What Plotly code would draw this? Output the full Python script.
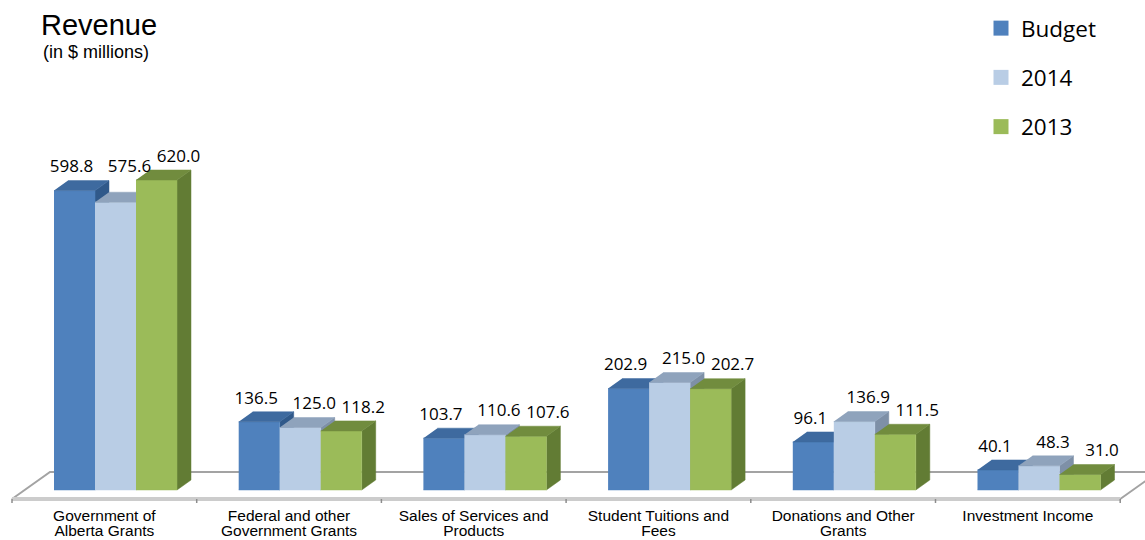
import plotly.graph_objects as go

# ---------------- data ----------------
categories = [
    "Government of<br>Alberta Grants",
    "Federal and other<br>Government Grants",
    "Sales of Services and<br>Products",
    "Student Tuitions and<br>Fees",
    "Donations and Other<br>Grants",
    "Investment Income",
]
series_names = ["Budget", "2014", "2013"]
budget = [598.8, 136.5, 103.7, 202.9, 96.1, 40.1]
rev_2014 = [575.6, 125.0, 110.6, 215.0, 136.9, 48.3]
rev_2013 = [620.0, 118.2, 107.6, 202.7, 111.5, 31.0]
series_values = [budget, rev_2014, rev_2013]

# ---------------- styling ----------------
front_cols = ["#4F81BD", "#B9CDE5", "#9BBB59"]
top_cols = ["#3E6A9F", "#8FA3BC", "#718C3E"]
side_cols = ["#30598A", "#7E90A7", "#627C34"]

W, H = 1145, 540
CAT_PX = 184.7      # pixels per category
X0_PX = 12          # pixel of floor front-left corner
Y0_PX = 490         # pixel of value 0 at bar front
PX_PER_UNIT = 0.5   # pixels per $ million


def cx(px):
    return px / CAT_PX


def vy(px):
    return px / PX_PER_UNIT


BAR_W = cx(41)
BAR_OFF = cx(42)
DX, DY = cx(14), vy(10)
FLOOR_FRONT = -vy(9)
FDX, FDY = cx(38), vy(27)
LABEL_UP = vy(22.5)
LABEL_HALF_W = cx(22)
LABEL_HALF_H = vy(6)
n = len(categories)

fig = go.Figure()

# ---------------- floor ----------------
fig.add_trace(go.Scatter(
    x=[0, FDX, n + FDX, n], y=[FLOOR_FRONT, FLOOR_FRONT + FDY, FLOOR_FRONT + FDY, FLOOR_FRONT],
    mode="lines", line=dict(color="#A3A3A3", width=2), hoverinfo="skip", showlegend=False))
fig.add_trace(go.Scatter(
    x=[0, n], y=[FLOOR_FRONT, FLOOR_FRONT],
    mode="lines", line=dict(color="#CCCCCC", width=4), hoverinfo="skip", showlegend=False))
tx, ty = [], []
for i in range(n + 1):
    tx += [i, i, None]
    ty += [FLOOR_FRONT, FLOOR_FRONT - vy(4), None]
fig.add_trace(go.Scatter(x=tx, y=ty, mode="lines", line=dict(color="#8C8C8C", width=1.5),
                         hoverinfo="skip", showlegend=False))

# ---------------- 3D bars ----------------
lab_x, lab_y, lab_t = [], [], []
lab_shift = [cx(-3), cx(14), cx(22)]
label_pos = {}
for j, vals in enumerate(series_values):
    frx, fry, tpx, tpy, sdx, sdy = [], [], [], [], [], []
    for i, v in enumerate(vals):
        x0 = i + BAR_OFF + j * BAR_W
        x1 = x0 + BAR_W
        frx += [x0, x1, x1, x0, None]
        fry += [0, 0, v, v, None]
        tpx += [x0, x1, x1 + DX, x0 + DX, None]
        tpy += [v, v, v + DY, v + DY, None]
        sdx += [x1, x1 + DX, x1 + DX, x1, None]
        sdy += [0, DY, v + DY, v, None]
        lx = (x0 + x1) / 2 + lab_shift[j]
        ly = v + LABEL_UP
        # lift label if it would collide with the taller bar to its left
        if j > 0:
            pv = series_values[j - 1][i]
            px0 = i + BAR_OFF + (j - 1) * BAR_W
            if lx - LABEL_HALF_W < px0 + BAR_W + DX and ly - LABEL_HALF_H < pv + DY:
                ly = max(ly, label_pos[(i, j - 1)][1])
        label_pos[(i, j)] = (lx, ly)
        lab_x.append(lx)
        lab_y.append(ly)
        lab_t.append(f"{v:.1f}")
    for xs, ys, col in ((sdx, sdy, side_cols[j]), (frx, fry, front_cols[j]), (tpx, tpy, top_cols[j])):
        fig.add_trace(go.Scatter(x=xs, y=ys, mode="lines", fill="toself", fillcolor=col,
                                 line=dict(color=col, width=0.5), hoverinfo="skip",
                                 showlegend=False))

# data labels
fig.add_trace(go.Scatter(x=lab_x, y=lab_y, text=lab_t, mode="text",
                         textfont=dict(family="Open Sans", size=17, color="#000000"),
                         textposition="middle center", hoverinfo="skip", showlegend=False))

# category labels (two lines, tight spacing)
l1x, l1t, l2x, l2t = [], [], [], []
for i, c in enumerate(categories):
    parts = c.split("<br>")
    l1x.append(i + 0.5)
    l1t.append(parts[0])
    if len(parts) > 1:
        l2x.append(i + 0.5)
        l2t.append(parts[1])
fig.add_trace(go.Scatter(x=l1x, y=[(Y0_PX - 517) / PX_PER_UNIT] * len(l1x), text=l1t, mode="text",
                         textfont=dict(family="Liberation Sans", size=15.5, color="#000000"),
                         textposition="middle center", hoverinfo="skip", showlegend=False))
fig.add_trace(go.Scatter(x=l2x, y=[(Y0_PX - 532.5) / PX_PER_UNIT] * len(l2x), text=l2t, mode="text",
                         textfont=dict(family="Liberation Sans", size=15.5, color="#000000"),
                         textposition="middle center", hoverinfo="skip", showlegend=False))

# legend entries
for name, col in zip(series_names, front_cols):
    fig.add_trace(go.Scatter(x=[None], y=[None], mode="markers", name=name, legendgroup=name,
                             marker=dict(symbol="square", size=15, color=col)))

fig.update_layout(
    width=W, height=H,
    margin=dict(l=0, r=0, t=0, b=0),
    paper_bgcolor="white", plot_bgcolor="white",
    xaxis=dict(range=[-X0_PX / CAT_PX, (W - X0_PX) / CAT_PX], visible=False, fixedrange=True),
    yaxis=dict(range=[-(H - Y0_PX) / PX_PER_UNIT, Y0_PX / PX_PER_UNIT], visible=False, fixedrange=True),
    legend=dict(x=981 / W, y=1 - 7 / H, xanchor="left", yanchor="top",
                font=dict(family="Open Sans", size=22.5, color="#000000"),
                tracegroupgap=17, bgcolor="rgba(0,0,0,0)"),
    annotations=[
        dict(text="Revenue", x=39 / W, y=1 - 25 / H, xref="paper", yref="paper",
             xanchor="left", yanchor="middle", showarrow=False,
             font=dict(family="Liberation Sans", size=29, color="#000000")),
        dict(text="(in $ millions)", x=41 / W, y=1 - 52 / H, xref="paper", yref="paper",
             xanchor="left", yanchor="middle", showarrow=False,
             font=dict(family="Liberation Sans", size=18, color="#000000")),
    ],
)

fig.write_html("out.html")
